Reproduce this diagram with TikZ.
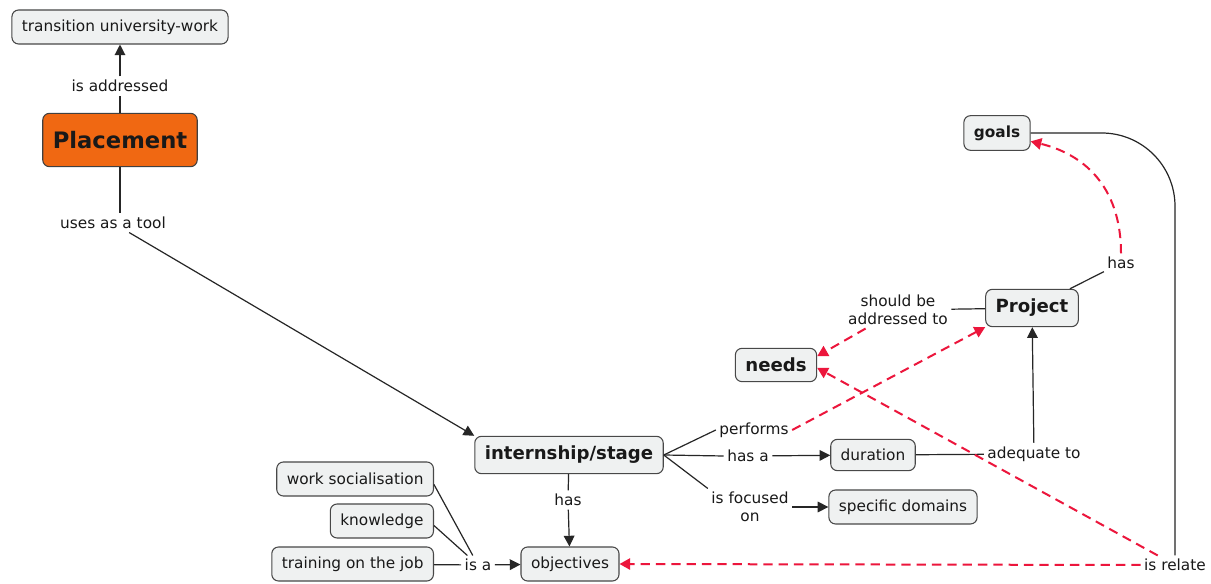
\documentclass[tikz,border=0pt]{standalone}
\usepackage{fontspec}
\setmainfont{DejaVu Sans}
\usetikzlibrary{arrows.meta}
\definecolor{conceptfill}{RGB}{239,241,241}
\definecolor{conceptdraw}{RGB}{72,72,72}
\definecolor{hubfill}{RGB}{240,104,18}
\definecolor{linkred}{RGB}{236,22,60}
\definecolor{inktext}{RGB}{25,25,25}
\begin{document}
\begin{tikzpicture}[x=0.75pt,y=-0.75pt,
  every node/.style={text=inktext},
  concept/.style={draw=conceptdraw,fill=conceptfill,rounded corners=5pt,line width=0.8pt,
    inner xsep=7.5pt,inner ysep=2pt,minimum height=25.5pt,font=\fontsize{11.5}{13.5}\selectfont},
  keyconcept/.style={concept,font=\fontsize{13.6}{16}\selectfont\bfseries,minimum height=28pt},
  hub/.style={concept,fill=hubfill,draw=black!75,font=\fontsize{17}{20}\selectfont\bfseries,minimum height=40pt},
  linkword/.style={inner sep=2.5pt,align=center,font=\fontsize{11.5}{13.5}\selectfont},
  link/.style={draw=black!85,line width=0.9pt},
  arrow/.style={link,-{Triangle[length=8pt,width=8pt]}},
  redlink/.style={draw=linkred,line width=1.5pt,dash pattern=on 7pt off 4.5pt,
    -{Triangle[length=8pt,width=8.5pt]}}]
\useasboundingbox[fill=white] (0,0) rectangle (1211,584);

% concepts
\node[concept] (transition) at (120,27) {transition university-work};
\node[hub] (placement) at (120,140) {Placement};
\node[keyconcept] (intern) at (569,455) {internship/stage};
\node[concept] (objectives) at (570,564) {objectives};
\node[concept,anchor=east] (worksoc) at (434,479) {work socialisation};
\node[concept,anchor=east] (knowledge) at (434,521) {knowledge};
\node[concept,anchor=east] (training) at (434,564) {training on the job};
\node[concept,minimum height=23.5pt] (duration) at (873,455) {duration};
\node[concept] (specific) at (903,507) {specific domains};
\node[keyconcept] (project) at (1032,308) {Project};
\node[keyconcept,minimum height=25pt] (needs) at (776,365) {needs};
\node[concept,font=\fontsize{11.5}{13.5}\selectfont\bfseries,minimum height=26pt] (goals) at (997,133) {goals};

% linking phrases
\node[linkword] (isaddr) at (120,86) {is addressed};
\node[linkword] (usestool) at (113,223) {uses as a tool};
\node[linkword] (has3) at (568,500) {has};
\node[linkword] (isa) at (478,565) {is a};
\node[linkword] (performs) at (754,430) {performs};
\node[linkword] (hasa) at (748,456) {has a};
\node[linkword] (focused) at (750,507) {is focused\\on};
\node[linkword] (adequate) at (1034,454) {adequate to};
\node[linkword] (shouldbe) at (898,310) {should be\\addressed to};
\node[linkword] (has2) at (1121,263) {has};
\node[linkword] (isrelate) at (1175,565) {is relate};

% solid connections
\draw[link] (placement) -- (isaddr);
\draw[arrow] (isaddr) -- (transition);
\draw[link] (placement.south) -- (placement.south |- usestool.north);
\draw[arrow] (usestool) -- (intern.north west);
\draw[link] (intern) -- (has3);
\draw[arrow] (has3) -- (objectives);
\draw[link] (worksoc.-4) -- (isa);
\draw[link] (knowledge.-5) -- (isa);
\draw[link] (training) -- (isa);
\draw[arrow] (isa) -- (objectives);
\draw[link] (intern.east) -- (performs.west);
\draw[link] (intern.east) -- (hasa.west);
\draw[arrow] (hasa) -- (duration);
\draw[link] (intern.east) -- (focused.north west);
\draw[arrow] (focused) -- (specific);
\draw[link] (duration) -- (adequate);
\draw[arrow] (adequate) -- (project);
\draw[link] (project) -- (shouldbe);
\draw[link] (project) -- (has2);
\draw[link,rounded corners=55pt] (goals.east) -| (isrelate.north);

% dashed red connections
\draw[redlink] (performs.east) -- (project.south west);
\draw[redlink] (shouldbe) -- (needs.12);
\draw[redlink] (has2.north) .. controls +(0,-70) and +(50,12) .. (goals.-14);
\draw[redlink] (isrelate) -- (needs.-4);
\draw[redlink] (isrelate.west) -- (objectives.east);
\end{tikzpicture}
\end{document}
